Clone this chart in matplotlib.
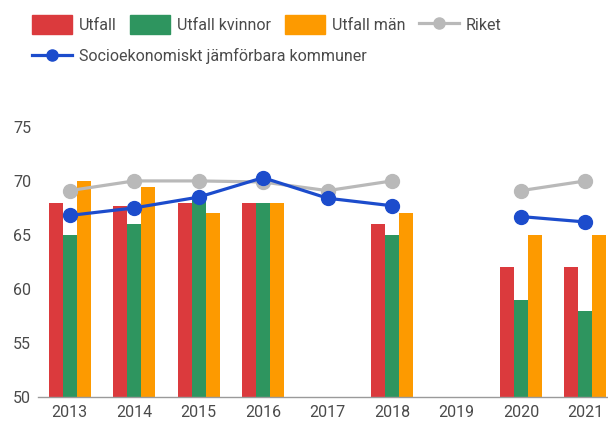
import numpy as np
import matplotlib.pyplot as plt
from matplotlib.lines import Line2D
from matplotlib.patches import Patch

plt.rcParams['font.family'] = ['Roboto', 'DejaVu Sans']

years = [2013, 2014, 2015, 2016, 2017, 2018, 2019, 2020, 2021]
utfall = [68, 67.7, 68, 68, np.nan, 66, np.nan, 62, 62]
utfall_kvinnor = [65, 66, 68.2, 68, np.nan, 65, np.nan, 59, 58]
utfall_man = [70, 69.4, 67, 68, np.nan, 67, np.nan, 65, 65]
riket = [69.1, 70, 70, 69.9, 69.1, 70, np.nan, 69.1, 70]
sek = [66.8, 67.5, 68.5, 70.3, 68.4, 67.7, np.nan, 66.7, 66.2]

c_red = '#db3a3d'
c_green = '#2e955f'
c_orange = '#fd9a00'
c_gray = '#b9b9b9'
c_blue = '#1c4ccc'

fig = plt.figure(figsize=(6.08, 4.23), dpi=100)
ax = fig.add_axes([0.0625, 0.0615, 0.9375, 0.6385])

x = np.array(years, dtype=float)
w = 0.217
ax.bar(x - w, utfall, w, color=c_red, zorder=2)
ax.bar(x, utfall_kvinnor, w, color=c_green, zorder=2)
ax.bar(x + w, utfall_man, w, color=c_orange, zorder=2)

ax.plot(x, riket, color=c_gray, lw=2.3, marker='o', ms=10, zorder=3, clip_on=False)
ax.plot(x, sek, color=c_blue, lw=2.3, marker='o', ms=10, zorder=4, clip_on=False)

ax.set_xlim(2012.51, 2021.35)
ax.set_ylim(50, 75)
ax.set_xticks(years)
ax.set_yticks([50, 55, 60, 65, 70, 75])
ax.tick_params(length=0, labelsize=11.5, labelcolor='#4a4a4a')
ax.tick_params(axis='x', pad=6)
ax.tick_params(axis='y', pad=5)
for s in ['top', 'right', 'left']:
    ax.spines[s].set_visible(False)
ax.spines['bottom'].set_color('#9a9a9a')
ax.spines['bottom'].set_linewidth(1)

h1 = [Patch(color=c_red, label='Utfall'),
      Patch(color=c_green, label='Utfall kvinnor'),
      Patch(color=c_orange, label='Utfall män'),
      Line2D([], [], color=c_gray, lw=2.3, marker='o', ms=8, label='Riket')]
fig.legend(handles=h1, loc='center left', bbox_to_anchor=(0.052, 0.942),
           ncol=4, frameon=False, fontsize=11.5, handlelength=2.5,
           handleheight=1.4, handletextpad=0.45, columnspacing=0.85,
           labelcolor='#4a4a4a', borderaxespad=0, borderpad=0)
h2 = [Line2D([], [], color=c_blue, lw=2.3, marker='o', ms=8,
             label='Socioekonomiskt jämförbara kommuner')]
fig.legend(handles=h2, loc='center left', bbox_to_anchor=(0.052, 0.868),
           frameon=False, fontsize=11.5, handlelength=2.5, handletextpad=0.45,
           labelcolor='#4a4a4a', borderaxespad=0, borderpad=0)

plt.savefig('out.png', dpi=100)
